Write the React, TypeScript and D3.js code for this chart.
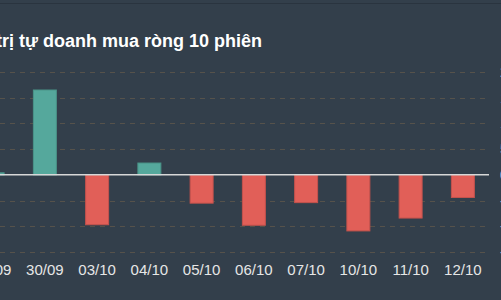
import React from "react";
import * as d3 from "d3";

const categories = ["29/09", "30/09", "03/10", "04/10", "05/10", "06/10", "07/10", "10/10", "11/10", "12/10"];
const values = [4, 165, -97, 23, -55, -98, -54, -109, -84, -44];
const yTicks = [200, 150, 100, 50, 0, -50, -100, -150];
const title = "Giá trị tự doanh mua ròng 10 phiên";

const W = 501;
const H = 300;

export default function App() {
  const x = d3
    .scaleBand<string>()
    .domain(categories)
    .range([-33.5, 489])
    .paddingInner(0.56)
    .paddingOuter(0.28);
  const y = d3.scaleLinear().domain([-150, 200]).range([252, 72]);
  const bg = "#333f4b";
  return (
    <svg
      width={W}
      height={H}
      style={{ position: "absolute", left: 0, top: 0, display: "block" }}
      fontFamily="'Liberation Sans', Arial, Helvetica, sans-serif"
    >
      <rect x={0} y={0} width={W} height={H} fill={bg} />
      <line x1={0} x2={W} y1={3.5} y2={3.5} stroke="#2a343f" strokeWidth={1} />
      <text x={262} y={47} textAnchor="end" fontSize={18} fontWeight="bold" fill="#ffffff">
        {title}
      </text>
      {yTicks.filter((t) => t !== 0).map((t) => (
        <line
          key={"g" + t}
          x1={0}
          x2={485}
          y1={Math.round(y(t)) + 0.5}
          y2={Math.round(y(t)) + 0.5}
          stroke="#56524b"
          strokeWidth={1}
          strokeDasharray="5,5"
        />
      ))}
      {yTicks.map((t) => (
        <text key={"yl" + t} x={500} y={y(t) + 5} fontSize={15} fill="#e0e0e0" textAnchor="start">
          {t}
        </text>
      ))}
      {categories.map((c, i) => {
        const v = values[i];
        const y0 = y(0);
        const yv = y(v);
        return (
          <rect
            key={c}
            x={x(c)}
            y={Math.min(y0, yv)}
            width={x.bandwidth()}
            height={Math.abs(yv - y0)}
            fill={v >= 0 ? "#55a89c" : "#e15f58"}
            stroke={v >= 0 ? "#4a9488" : "#c4524c"}
            strokeWidth={1}
          />
        );
      })}
      <line x1={0} x2={489} y1={y(0)} y2={y(0)} stroke="#d8d8d8" strokeWidth={1.5} />
      {categories.map((c) => (
        <text
          key={"xl" + c}
          x={(x(c) as number) + x.bandwidth() / 2}
          y={275}
          textAnchor="middle"
          fontSize={15}
          fill="#e6e6e6"
        >
          {c}
        </text>
      ))}
    </svg>
  );
}
